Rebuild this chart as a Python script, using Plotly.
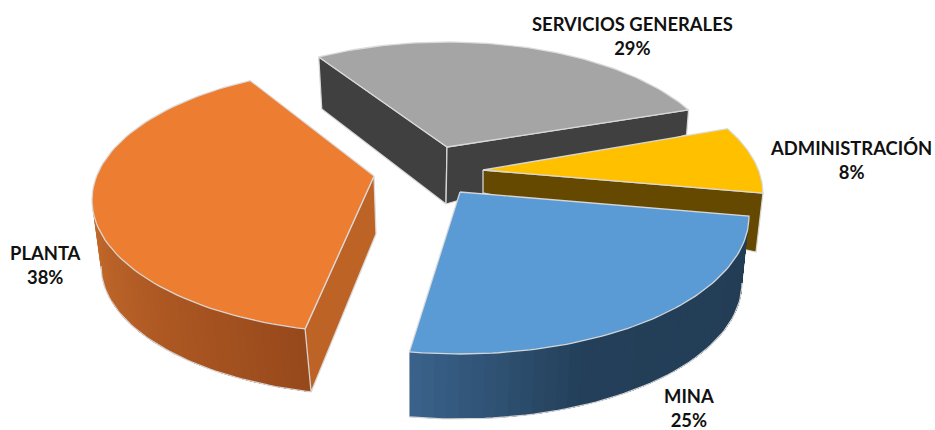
import numpy as np
import plotly.graph_objects as go

categories = ["ADMINISTRACIÓN", "MINA", "PLANTA", "SERVICIOS GENERALES"]
values = [8, 25, 38, 29]

W, H = 935, 430
FIRST_ANGLE = 60.8
EDGE = "rgba(218,218,218,0.95)"

# Projection of each exploded slice (one dict per category, same order as the data)
ADMIN = dict(c=(483, 194), r=(280, 134), off=0.0, scale=1.0, apex=(483, 170), apex_b=(483, 193),
             color="#FFC000", label=(851, 160))
MINA = dict(c=(460, 216), r=(289, 138), off=0.4, scale=1.112, apex=(460, 192),
            bc=(459, 283), br=(283, 136), wall=[(0.0, "#3B638C"), (0.35, "#24405A"), (1.0, "#233D55")],
            color="#5B9BD5", label=(689, 408))
PLANTA = dict(c=(375, 200), r=(283, 133), off=14.7, scale=1.02, apex=(374, 176), apex_b=(376, 234),
              bc=(380, 266), br=(279, 130), wall=[(0.0, "#C66B2C"), (1.0, "#98491C")],
              color="#ED7D31", label=(45, 265))
SERV = dict(c=(447, 172), r=(275, 130), off=15.8, scale=0.855, apex=(447, 147), apex_b=(446, 204),
            color="#A5A5A5", label=(632, 36))
slices = [ADMIN, MINA, PLANTA, SERV]

starts = FIRST_ANGLE + 3.6 * np.concatenate([[0], np.cumsum(values)[:-1]])
for s, a0, v in zip(slices, starts, values):
    s["t0"] = a0 + s["off"]
    s["t1"] = s["t0"] + v * 3.6 * s["scale"]

def ell(c, r, t):
    t = np.radians(t)
    return c[0] + r[0] * np.sin(t), c[1] - r[1] * np.cos(t)

fig = go.Figure()

def poly(xs, ys, fill, line=None, width=1.3):
    fig.add_trace(go.Scatter(
        x=list(xs), y=list(ys), mode="lines", fill="toself", fillcolor=fill,
        line=dict(color=line or fill, width=width if line else 0),
        hoverinfo="skip", showlegend=False))

def hex_rgb(h):
    return np.array([int(h[i:i + 2], 16) for i in (1, 3, 5)], float)

def ramp(stops, f):
    ps = [p for p, _ in stops]
    rgb = [np.interp(f, ps, [hex_rgb(c)[k] for _, c in stops]) for k in range(3)]
    return "rgb(%d,%d,%d)" % tuple(rgb)

def top(s):
    t = np.linspace(s["t0"], s["t1"], 80)
    x, y = ell(s["c"], s["r"], t)
    poly(np.r_[s["apex"][0], x, s["apex"][0]], np.r_[s["apex"][1], y, s["apex"][1]], s["color"], EDGE)

def curved_wall(s, t_from, t_to, n=40):
    # Each band runs to the far end and is painted over by the next, so no seams show.
    ts = np.linspace(t_from, t_to, n + 1)
    for i in range(n):
        q = np.linspace(ts[i], t_to, max(3, (n - i) * 2))
        xa, ya = ell(s["c"], s["r"], q)
        xb, yb = ell(s["bc"], s["br"], q[::-1])
        f = (i + 0.5) / n
        poly(np.r_[xa, xb, xa[0]], np.r_[ya, yb, ya[0]], ramp(s["wall"], f))
    q = np.linspace(t_from, t_to, 60)
    xb, yb = ell(s["bc"], s["br"], q)
    fig.add_trace(go.Scatter(x=xb, y=yb, mode="lines", line=dict(color=EDGE, width=1.3),
                             hoverinfo="skip", showlegend=False))

# --- SERVICIOS GENERALES ---
s = SERV
x0, y0 = ell(s["c"], s["r"], s["t0"])
x1, y1 = ell(s["c"], s["r"], s["t1"])
poly([s["apex"][0], x0, x0 + 3, s["apex_b"][0], s["apex"][0]],
     [s["apex"][1], y0, y0 + 52, s["apex_b"][1], s["apex"][1]], "#404040", EDGE)
poly([s["apex"][0], x1, x1 - 2, s["apex_b"][0], s["apex"][0]],
     [s["apex"][1], y1, y1 + 25, s["apex_b"][1], s["apex"][1]], "#404040", EDGE)
top(s)

# --- ADMINISTRACIÓN ---
s = ADMIN
x1, y1 = ell(s["c"], s["r"], s["t1"])
poly([s["apex"][0], x1, x1 - 7, s["apex_b"][0], s["apex"][0]],
     [s["apex"][1], y1, y1 + 59, s["apex_b"][1], s["apex"][1]], "#664900", EDGE)
top(s)

# --- PLANTA ---
s = PLANTA
curved_wall(s, 270, s["t0"])
x0, y0 = ell(s["c"], s["r"], s["t0"])
xb, yb = ell(s["bc"], s["br"], s["t0"])
poly([s["apex"][0], x0, xb, s["apex_b"][0], s["apex"][0]],
     [s["apex"][1], y0, yb, s["apex_b"][1], s["apex"][1]], "#BD6326", EDGE)
top(s)

# --- MINA ---
s = MINA
curved_wall(s, s["t1"], s["t0"])
top(s)

annotations = [
    dict(x=sl["label"][0], y=sl["label"][1], xref="x", yref="y",
         text=f"{c}<br>{v}%", showarrow=False, align="center",
         font=dict(family="Lato", size=18.4, color="#111111", weight="bold"))
    for sl, c, v in zip(slices, categories, values)
]

fig.update_layout(
    width=W, height=H, margin=dict(l=0, r=0, t=0, b=0),
    paper_bgcolor="white", plot_bgcolor="white", showlegend=False,
    xaxis=dict(range=[0, W], visible=False, fixedrange=True),
    yaxis=dict(range=[H, 0], visible=False, fixedrange=True),
    annotations=annotations,
)
fig.write_html("out.html", config={"displayModeBar": False},
               post_script="document.body.style.margin='0';document.documentElement.style.overflow='hidden';")
